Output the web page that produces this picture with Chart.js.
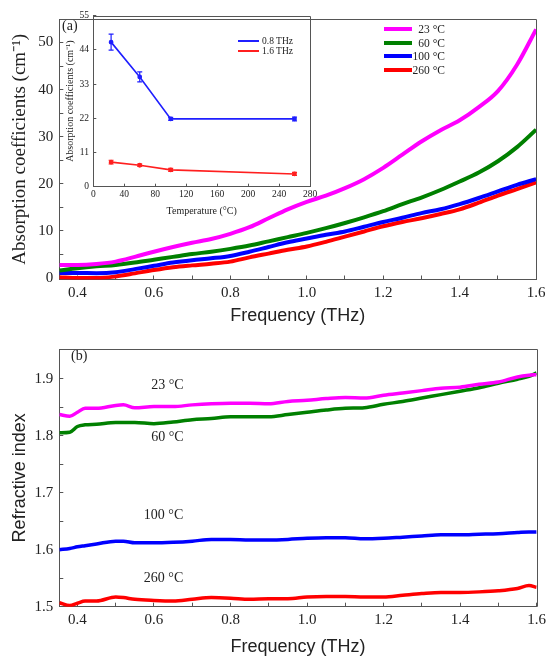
<!DOCTYPE html>
<html>
<head>
<meta charset="utf-8">
<script src="https://cdn.jsdelivr.net/npm/chart.js@4.4.1/dist/chart.umd.min.js"></script>
<style>
  body { margin: 0; background: #fff; }
  #wrap { position: relative; width: 554px; height: 656px; font-family: 'Liberation Serif', 'Times New Roman', serif; color: #222; }
  canvas { position: absolute; left: 0; }
  .row { position: absolute; height: 14px; }
  .row .ln { position: absolute; top: 50%; }
  .row .tx { position: absolute; top: 0; white-space: nowrap; }
  .tag { position: absolute; font-size: 14px; line-height: 14px; }
</style>
</head>
<body>
<div id="wrap">
  <canvas id="absChart" width="554" height="330" style="top:0"></canvas>
  <canvas id="nChart" width="554" height="326" style="top:330px"></canvas>
  <canvas id="insetChart" width="330" height="225" style="top:0"></canvas>
  <div id="legendMain"></div>
  <div id="legendInset"></div>
  <div class="tag" style="left:62px; top:19px">(a)</div>
  <div class="tag" style="left:71px; top:349px">(b)</div>
</div>
<script>
// ---- data ----
var seriesNames = ['23 °C', '60 °C', '100 °C', '260 °C'];
var seriesColors = ['#ff00ff', '#008000', '#0000ff', '#ff0000'];

// (a) absorption coefficients (cm-1) vs frequency (THz)
var freqA = [0.353, 0.40, 0.45, 0.50, 0.55, 0.60, 0.65, 0.70, 0.75, 0.80, 0.85, 0.90, 0.95,
             1.00, 1.05, 1.10, 1.15, 1.20, 1.25, 1.30, 1.35, 1.40, 1.45, 1.50, 1.55, 1.60];
var abs23 = [2.8, 2.8, 3.0, 3.5, 4.5, 5.6, 6.6, 7.5, 8.3, 9.4, 10.8, 12.7, 14.6,
             16.2, 17.5, 19.1, 21.0, 23.4, 26.2, 29.0, 31.4, 33.5, 36.3, 39.7, 45.3, 52.8];
var abs60 = [1.6, 2.1, 2.5, 2.8, 3.3, 3.9, 4.5, 5.1, 5.6, 6.2, 6.9, 7.8, 8.7,
             9.6, 10.6, 11.7, 12.9, 14.2, 15.7, 17.1, 18.7, 20.5, 22.4, 24.8, 27.8, 31.5];
var abs100 = [1.1, 1.1, 1.05, 1.25, 1.9, 2.6, 3.3, 3.8, 4.2, 4.7, 5.6, 6.6, 7.6,
              8.4, 9.2, 9.9, 10.9, 11.9, 12.8, 13.8, 14.6, 15.7, 17.0, 18.4, 19.8, 21.0];
var abs260 = [0.2, 0.0, 0.0, 0.35, 1.0, 1.7, 2.3, 2.7, 3.05, 3.5, 4.4, 5.2, 6.0,
              6.7, 7.7, 8.8, 9.9, 11.0, 11.9, 12.7, 13.6, 14.6, 16.0, 17.5, 18.9, 20.3];

// (b) refractive index vs frequency (THz)
var freqB = [0.353, 0.38, 0.40, 0.42, 0.45, 0.50, 0.52, 0.55, 0.60, 0.65, 0.70, 0.75, 0.80, 0.85, 0.90,
             0.95, 1.00, 1.05, 1.10, 1.15, 1.20, 1.25, 1.30, 1.35, 1.40, 1.45, 1.50, 1.55, 1.58, 1.60];
var n23 = [1.837, 1.834, 1.841, 1.848, 1.848, 1.853, 1.854, 1.849, 1.851, 1.851, 1.854, 1.856, 1.857, 1.857, 1.856,
           1.860, 1.862, 1.865, 1.867, 1.866, 1.871, 1.875, 1.879, 1.883, 1.885, 1.890, 1.894, 1.903, 1.906, 1.907];
var n60 = [1.805, 1.806, 1.816, 1.819, 1.820, 1.823, 1.823, 1.823, 1.821, 1.824, 1.828, 1.830, 1.833, 1.833, 1.833,
           1.837, 1.841, 1.845, 1.848, 1.849, 1.855, 1.860, 1.866, 1.872, 1.878, 1.884, 1.892, 1.899, 1.904, 1.910];
var n100 = [1.600, 1.602, 1.605, 1.607, 1.610, 1.615, 1.615, 1.612, 1.612, 1.613, 1.615, 1.618, 1.618, 1.617, 1.617,
            1.618, 1.620, 1.621, 1.621, 1.619, 1.620, 1.622, 1.624, 1.626, 1.626, 1.627, 1.628, 1.630, 1.631, 1.631];
var n260 = [1.507, 1.502, 1.506, 1.510, 1.510, 1.517, 1.516, 1.513, 1.511, 1.510, 1.513, 1.516, 1.515, 1.513, 1.514,
            1.514, 1.517, 1.518, 1.518, 1.517, 1.517, 1.520, 1.523, 1.525, 1.525, 1.526, 1.528, 1.532, 1.537, 1.534];

// inset: absorption vs temperature
var temps = [23, 60, 100, 260];
var insetNames = ['0.8 THz', '1.6 THz'];
var insetColors = ['#1f1fff', '#ff1f1f'];
var abs08 = [46.5, 35.3, 21.8, 21.8];
var err08 = [2.6, 1.6, 0.5, 0.6];
var abs16 = [7.9, 6.9, 5.4, 4.1];
var err16 = [0.6, 0.4, 0.5, 0.5];

// tick labels
var freqTicks = [0.4, 0.6, 0.8, 1.0, 1.2, 1.4, 1.6];
var absTicks = [0, 10, 20, 30, 40, 50];
var nTicks = [1.5, 1.6, 1.7, 1.8, 1.9];
var tempTicks = [0, 40, 80, 120, 160, 200, 240, 280];
var insetYTicks = [0, 11, 22, 33, 44, 55];

// in-plot labels of panel (b), in data units
var curveTagsB = [
  { text: '23 °C', x: 0.635, y: 1.888 },
  { text: '60 °C', x: 0.635, y: 1.797 },
  { text: '100 °C', x: 0.625, y: 1.660 },
  { text: '260 °C', x: 0.625, y: 1.550 }
];

var SERIF = "'Liberation Serif', 'Times New Roman', serif";
var SANS = "'Liberation Sans', Arial, sans-serif";
var AXIS = '#555';

function xy(xs, ys) {
  return xs.map(function (x, i) { return { x: x, y: ys[i] }; });
}

function withMinors(majors) {
  var all = majors.slice();
  for (var i = 0; i < majors.length - 1; i++) all.push(+((majors[i] + majors[i + 1]) / 2).toFixed(4));
  return all.sort(function (a, b) { return a - b; });
}

function axis(o) {
  var majors = o.ticks;
  var all = o.minors ? withMinors(majors) : majors;
  return {
    type: 'linear',
    position: o.position,
    min: o.min,
    max: o.max,
    border: { display: true, color: AXIS, width: 1 },
    grid: { drawOnChartArea: false, drawTicks: true, tickLength: -o.tick, color: AXIS },
    ticks: {
      autoSkip: false, maxRotation: 0, padding: o.pad, color: '#222',
      font: { family: SERIF, size: o.size },
      callback: function (v) {
        if (majors.indexOf(+v.toFixed(4)) < 0) return '';
        return o.digits != null ? v.toFixed(o.digits) : String(v);
      }
    },
    title: {
      display: true, text: o.title, color: '#222',
      font: { family: o.titleFamily, size: o.titleSize, lineHeight: 1 },
      padding: o.titlePad
    },
    afterBuildTicks: function (s) { s.ticks = all.map(function (v) { return { value: v }; }); },
    afterFit: function (s) {
      if (o.width != null) s.width = o.width;
      if (o.height != null) s.height = o.height;
    }
  };
}

function lineSet(label, color, xs, ys, w) {
  return {
    label: label, data: xy(xs, ys), borderColor: color, backgroundColor: color,
    borderWidth: w, pointRadius: 0, cubicInterpolationMode: 'monotone', fill: false
  };
}

// top and right edges of the plot frame
var frame = {
  id: 'frame',
  afterDraw: function (chart) {
    var a = chart.chartArea, c = chart.ctx;
    c.save();
    c.strokeStyle = AXIS;
    c.lineWidth = 1;
    c.beginPath();
    c.moveTo(a.left, Math.round(a.top) + 0.5);
    c.lineTo(Math.round(a.right) + 0.5, Math.round(a.top) + 0.5);
    c.lineTo(Math.round(a.right) + 0.5, a.bottom);
    c.stroke();
    c.restore();
  }
};

var curveTags = {
  id: 'curveTags',
  afterDraw: function (chart) {
    var c = chart.ctx, xs = chart.scales.x, ys = chart.scales.y;
    c.save();
    c.font = '14px ' + SERIF;
    c.fillStyle = '#222';
    c.textAlign = 'center';
    c.textBaseline = 'middle';
    curveTagsB.forEach(function (t) {
      c.fillText(t.text, xs.getPixelForValue(t.x), ys.getPixelForValue(t.y));
    });
    c.restore();
  }
};

var insetErrors = [err08, err16];
var errorBars = {
  id: 'errorBars',
  afterDatasetsDraw: function (chart) {
    var c = chart.ctx, xs = chart.scales.x, ys = chart.scales.y;
    chart.data.datasets.forEach(function (ds, k) {
      var errs = insetErrors[k];
      c.save();
      c.strokeStyle = ds.borderColor;
      c.lineWidth = 1.2;
      ds.data.forEach(function (p, i) {
        var px = xs.getPixelForValue(p.x);
        var t = ys.getPixelForValue(p.y + errs[i]);
        var b = ys.getPixelForValue(p.y - errs[i]);
        c.beginPath();
        c.moveTo(px, t); c.lineTo(px, b);
        c.moveTo(px - 2.5, t); c.lineTo(px + 2.5, t);
        c.moveTo(px - 2.5, b); c.lineTo(px + 2.5, b);
        c.stroke();
      });
      c.restore();
    });
  }
};

var common = {
  responsive: false,
  animation: false,
  plugins: { legend: { display: false }, tooltip: { enabled: false } }
};

// Panel (a)
new Chart(document.getElementById('absChart'), {
  type: 'line',
  data: {
    datasets: [
      lineSet(seriesNames[0], seriesColors[0], freqA, abs23, 4),
      lineSet(seriesNames[1], seriesColors[1], freqA, abs60, 4),
      lineSet(seriesNames[2], seriesColors[2], freqA, abs100, 4),
      lineSet(seriesNames[3], seriesColors[3], freqA, abs260, 4)
    ]
  },
  options: Object.assign({}, common, {
    layout: { padding: { left: 0, top: 12.3, right: 10.7, bottom: 0 } },
    scales: {
      x: axis({ position: 'bottom', min: 0.3526, max: 1.6, ticks: freqTicks, minors: true, digits: 1,
                tick: 4, pad: 8.5, size: 15, height: 50.5,
                title: 'Frequency (THz)', titleFamily: SANS, titleSize: 18, titlePad: { top: 0, bottom: 5 } }),
      y: axis({ position: 'left', min: -0.3, max: 55, ticks: absTicks, minors: true,
                tick: 4, pad: 10, size: 15, width: 59.3,
                title: 'Absorption coefficients (cm⁻¹)', titleFamily: SERIF, titleSize: 19, titlePad: { top: 10.5, bottom: 0 } })
    }
  }),
  plugins: [frame]
});

// Panel (b)
new Chart(document.getElementById('nChart'), {
  type: 'line',
  data: {
    datasets: [
      lineSet(seriesNames[0], seriesColors[0], freqB, n23, 3.5),
      lineSet(seriesNames[1], seriesColors[1], freqB, n60, 3.5),
      lineSet(seriesNames[2], seriesColors[2], freqB, n100, 3.5),
      lineSet(seriesNames[3], seriesColors[3], freqB, n260, 3.5)
    ]
  },
  options: Object.assign({}, common, {
    layout: { padding: { left: 0, top: 8.3, right: 10.7, bottom: 0 } },
    scales: {
      x: axis({ position: 'bottom', min: 0.3526, max: 1.6, ticks: freqTicks, minors: true, digits: 1,
                tick: 4, pad: 8, size: 15, height: 49.3,
                title: 'Frequency (THz)', titleFamily: SANS, titleSize: 18, titlePad: { top: 0, bottom: 0.3 } }),
      y: axis({ position: 'left', min: 1.5, max: 1.952, ticks: nTicks, minors: true, digits: 1,
                tick: 4, pad: 10, size: 15, width: 59.3,
                title: 'Refractive index', titleFamily: SANS, titleSize: 18, titlePad: { top: 11, bottom: 0 } })
    }
  }),
  plugins: [frame, curveTags]
});

// Inset of panel (a)
new Chart(document.getElementById('insetChart'), {
  type: 'line',
  data: {
    datasets: [
      { label: insetNames[0], data: xy(temps, abs08), borderColor: insetColors[0], backgroundColor: insetColors[0],
        borderWidth: 1.6, pointRadius: 1.6, tension: 0 },
      { label: insetNames[1], data: xy(temps, abs16), borderColor: insetColors[1], backgroundColor: insetColors[1],
        borderWidth: 1.6, pointRadius: 1.6, tension: 0 }
    ]
  },
  options: Object.assign({}, common, {
    layout: { padding: { left: 0, top: 15.7, right: 20, bottom: 0 } },
    scales: {
      x: axis({ position: 'bottom', min: 0, max: 280, ticks: tempTicks,
                tick: 3, pad: 5.2, size: 9.5, height: 38.3,
                title: 'Temperature (°C)', titleFamily: SERIF, titleSize: 10, titlePad: { top: 0, bottom: 9 } }),
      y: axis({ position: 'left', min: 0, max: 55, ticks: insetYTicks,
                tick: 3, pad: 7.3, size: 9.5, width: 93.3,
                title: 'Absorption coefficients (cm⁻¹)', titleFamily: SERIF, titleSize: 10, titlePad: { top: 65, bottom: 0 } })
    }
  }),
  plugins: [frame, errorBars]
});

// legends as html text
function buildLegend(el, names, colors, o) {
  names.forEach(function (name, i) {
    var row = document.createElement('div');
    row.className = 'row';
    row.style.left = o.left + 'px';
    row.style.top = (o.top + i * o.step - 7) + 'px';
    row.style.width = o.width + 'px';
    var ln = document.createElement('div');
    ln.className = 'ln';
    ln.style.left = '0px';
    ln.style.width = o.line + 'px';
    ln.style.height = o.thick + 'px';
    ln.style.marginTop = (-o.thick / 2) + 'px';
    ln.style.background = colors[i];
    var tx = document.createElement('div');
    tx.className = 'tx';
    tx.textContent = name;
    tx.style.fontSize = o.size + 'px';
    tx.style.lineHeight = '14px';
    if (o.alignRight) { tx.style.right = '0px'; } else { tx.style.left = (o.line + 3) + 'px'; }
    row.appendChild(ln);
    row.appendChild(tx);
    el.appendChild(row);
  });
}
buildLegend(document.getElementById('legendMain'), seriesNames, seriesColors,
  { left: 384, top: 28.7, step: 13.8, width: 61, line: 28, thick: 4, size: 11.5, alignRight: true });
buildLegend(document.getElementById('legendInset'), insetNames, insetColors,
  { left: 238, top: 40.7, step: 10.5, width: 60, line: 21, thick: 2, size: 9.5, alignRight: false });
</script>
</body>
</html>
